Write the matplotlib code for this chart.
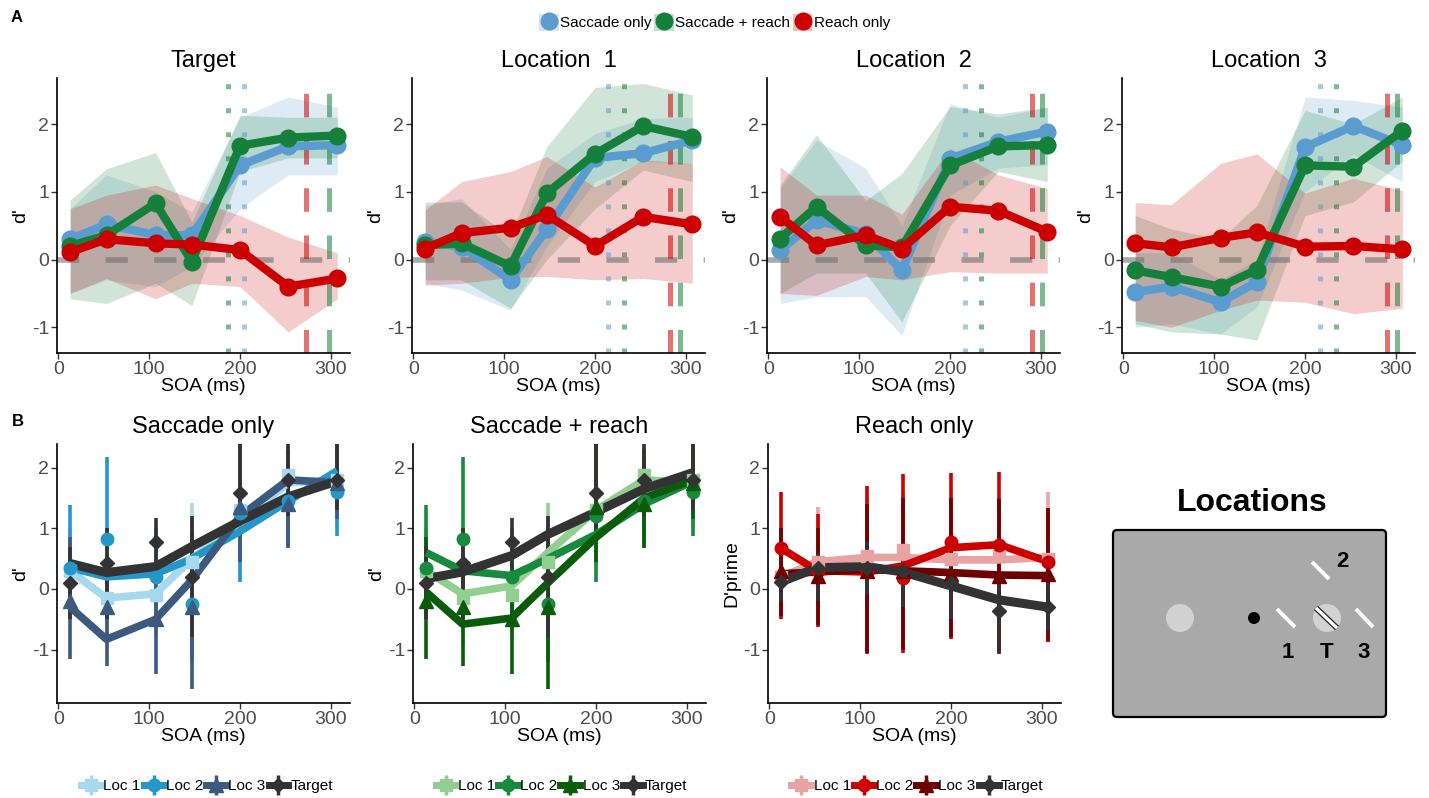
import matplotlib.pyplot as plt
from matplotlib.lines import Line2D
from matplotlib.patches import Patch, FancyBboxPatch, Circle

plt.rcParams['font.family'] = ['Liberation Sans', 'DejaVu Sans']
plt.rcParams['lines.scale_dashes'] = False

SOA = [13, 53, 107, 147, 200, 253, 307]

# ---- panel A: d' per location, mean + ribbon, one entry per panel
A_TITLES = ["Target", "Location  1", "Location  2", "Location  3"]
COND_LABELS = ["Saccade only", "Saccade + reach", "Reach only"]

sacc_mean = [[0.30, 0.52, 0.36, 0.36, 1.39, 1.67, 1.69],
             [0.26, 0.19, -0.30, 0.45, 1.50, 1.57, 1.76],
             [0.14, 0.58, 0.38, -0.16, 1.49, 1.74, 1.89],
             [-0.48, -0.40, -0.63, -0.33, 1.66, 1.97, 1.69]]
sacc_lo = [[-0.50, -0.30, -0.40, -0.10, 0.75, 1.25, 1.25],
           [-0.35, -0.45, -0.75, 0.20, 1.15, 1.45, 1.42],
           [-0.65, -0.55, -0.55, -1.12, 0.95, 1.35, 1.40],
           [-1.00, -0.95, -1.10, -0.70, 1.00, 1.55, 1.15]]
sacc_hi = [[0.75, 1.25, 1.00, 0.70, 2.10, 2.40, 2.25],
           [0.80, 0.90, 0.15, 1.35, 1.86, 2.08, 2.10],
           [1.05, 1.76, 1.35, 0.50, 2.30, 2.10, 2.25],
           [0.10, 0.10, -0.30, 0.00, 2.40, 2.35, 2.25]]

both_mean = [[0.20, 0.36, 0.83, -0.03, 1.68, 1.80, 1.83],
             [0.21, 0.24, -0.10, 0.98, 1.56, 1.97, 1.81],
             [0.31, 0.78, 0.21, 0.18, 1.39, 1.67, 1.69],
             [-0.16, -0.26, -0.40, -0.15, 1.39, 1.37, 1.90]]
both_lo = [[-0.58, -0.65, -0.35, -0.68, 1.30, 1.50, 1.50],
           [-0.30, -0.30, -0.72, 0.00, 0.75, 1.32, 1.15],
           [-0.50, -0.20, -0.20, -0.92, 0.50, 1.30, 1.15],
           [-0.95, -1.07, -1.10, -1.19, 0.65, 0.85, 1.45]]
both_hi = [[0.88, 1.34, 1.58, 0.55, 2.13, 2.10, 2.10],
           [0.85, 0.85, 0.35, 1.67, 2.54, 2.60, 2.43],
           [1.10, 1.84, 0.87, 1.27, 2.26, 2.15, 2.25],
           [0.65, 0.45, 0.30, 0.80, 2.20, 2.00, 2.40]]

reach_mean = [[0.11, 0.30, 0.24, 0.22, 0.14, -0.40, -0.28],
              [0.16, 0.39, 0.47, 0.66, 0.20, 0.63, 0.52],
              [0.63, 0.21, 0.36, 0.16, 0.78, 0.72, 0.41],
              [0.24, 0.18, 0.32, 0.40, 0.19, 0.20, 0.15]]
reach_lo = [[-0.50, -0.28, -0.58, -0.35, -0.40, -1.07, -0.58],
            [-0.38, -0.35, -0.26, -0.25, -0.30, -0.28, -0.35],
            [-0.50, -0.53, -0.25, -0.30, -0.18, -0.20, -0.20],
            [-0.90, -1.00, -0.75, -0.60, -0.63, -0.80, -0.72]]
reach_hi = [[0.75, 0.95, 1.10, 0.90, 0.65, 0.33, 0.10],
            [0.73, 1.15, 1.30, 1.52, 1.07, 1.47, 1.42],
            [1.37, 0.95, 0.95, 0.67, 1.64, 1.25, 1.05],
            [0.84, 0.81, 1.42, 1.56, 0.98, 1.20, 1.02]]

# latency markers (ms)
sacc_dot = [204, 214, 216, 216]
both_dot = [187, 232, 234, 234]
reach_dash = [273, 282, 290, 290]
both_dash = [298, 293, 301, 301]

# ---- panel B: per condition, series Loc 1, Loc 2, Loc 3, Target
B_TITLES = ["Saccade only", "Saccade + reach", "Reach only"]
B_YLABELS = ["d'", "d'", "D'prime"]
SERIES = ["Loc 1", "Loc 2", "Loc 3", "Target"]

sacc_pts = [[0.30, -0.15, -0.10, 0.45, 1.30, 1.88, 1.80],
            [0.35, 0.82, 0.20, -0.25, 1.25, 1.45, 1.60],
            [-0.20, -0.30, -0.50, -0.30, 1.35, 1.40, 1.75],
            [0.10, 0.42, 0.78, 0.20, 1.58, 1.80, 1.80]]
sacc_err_lo = [[-0.30, -0.90, -0.80, -0.60, 0.40, 0.90, 1.00],
               [-0.50, -0.40, -0.60, -1.20, 0.12, 0.70, 0.88],
               [-1.15, -1.27, -1.40, -1.65, 0.45, 0.68, 1.15],
               [-0.50, -0.50, 0.35, -0.80, 1.00, 1.20, 1.30]]
sacc_err_hi = [[1.00, 0.50, 0.60, 1.42, 2.40, 2.60, 2.50],
               [1.38, 2.17, 1.00, 1.15, 2.40, 2.30, 2.50],
               [0.85, 0.60, 0.35, 0.95, 2.50, 2.30, 2.50],
               [0.70, 1.00, 1.17, 1.20, 2.40, 2.40, 2.40]]
sacc_fit = [[0.30, -0.15, -0.08, 0.50, 1.10, 1.75, 1.80],
            [0.35, 0.20, 0.25, 0.50, 0.95, 1.45, 1.95],
            [-0.30, -0.83, -0.50, 0.15, 1.20, 1.80, 1.75],
            [0.42, 0.27, 0.37, 0.70, 1.12, 1.52, 1.78]]

both_pts = [[0.30, -0.15, -0.10, 0.45, 1.30, 1.88, 1.80],
            [0.35, 0.82, 0.20, -0.25, 1.20, 1.45, 1.60],
            [-0.20, -0.30, -0.50, -0.30, 1.35, 1.40, 1.75],
            [0.10, 0.42, 0.78, 0.20, 1.58, 1.80, 1.80]]
both_err_lo = sacc_err_lo
both_err_hi = sacc_err_hi
both_fit = [[0.30, -0.08, 0.05, 0.60, 1.30, 1.80, 1.75],
            [0.60, 0.30, 0.22, 0.50, 0.90, 1.40, 1.78],
            [-0.05, -0.58, -0.48, 0.10, 0.85, 1.50, 1.80],
            [0.17, 0.28, 0.55, 0.90, 1.27, 1.65, 1.92]]

reach_pts = [[0.20, 0.45, 0.55, 0.65, 0.50, 0.55, 0.50],
             [0.67, 0.30, 0.30, 0.18, 0.78, 0.72, 0.45],
             [0.30, 0.22, 0.30, 0.30, 0.25, 0.22, 0.25],
             [0.12, 0.35, 0.35, 0.30, 0.10, -0.37, -0.30]]
reach_err_lo = [[-0.20, -0.40, -0.30, -0.30, -0.50, -0.50, -0.40],
                [-0.50, -0.63, -1.07, -1.05, -0.82, -1.08, -0.88],
                [-0.45, -0.60, -1.05, -1.00, -0.80, -1.05, -0.85],
                [-0.20, -0.20, -0.10, -0.30, -0.50, -1.05, -0.70]]
reach_err_hi = [[1.00, 1.35, 1.50, 1.60, 1.50, 1.50, 1.60],
                [1.60, 1.23, 1.70, 1.90, 1.92, 1.93, 1.33],
                [1.00, 1.00, 1.40, 1.50, 1.50, 1.48, 1.33],
                [0.40, 0.60, 0.78, 0.40, 0.60, 0.30, 0.10]]
reach_fit = [[0.20, 0.45, 0.52, 0.52, 0.48, 0.48, 0.52],
             [0.67, 0.30, 0.28, 0.38, 0.68, 0.73, 0.45],
             [0.25, 0.28, 0.32, 0.30, 0.27, 0.23, 0.22],
             [0.12, 0.35, 0.37, 0.28, 0.05, -0.18, -0.30]]

BLUE, GREEN, RED = '#5a9bd0', '#15803a', '#cc0000'
B_COLORS = [['#a6d8ee', '#2596c8', '#3c5a7d', '#333333'],
            ['#90cf90', '#178a3e', '#0a5c0a', '#333333'],
            ['#e8a3a3', '#cc0000', '#6e0000', '#333333']]
B_MARKERS = ['s', 'o', '^', 'D']
B_MSIZE = [9, 9, 10, 7]

DOT = (3.6, 13.7)
DASH = (17, 17)

W, H = 1429, 798
fig = plt.figure(figsize=(W / 100, H / 100), dpi=100)


def px_axes(left, top, width, height):
    return fig.add_axes([left / W, 1 - (top + height) / H, width / W, height / H])


def style(ax, ylim, ylabel):
    ax.set_xlim(-1.5, 321)
    ax.set_ylim(*ylim)
    ax.set_xticks([0, 100, 200, 300])
    ax.set_yticks([-1, 0, 1, 2])
    ax.set_yticklabels(['-1', '0', '1', '2'])
    for s in ['top', 'right']:
        ax.spines[s].set_visible(False)
    for s in ['left', 'bottom']:
        ax.spines[s].set_linewidth(1.2)
    ax.tick_params(length=4, width=1, color='#333333', labelcolor='#4d4d4d',
                   labelsize=14, pad=1.5)
    ax.set_xlabel('SOA (ms)', fontsize=14, labelpad=0)
    ax.set_ylabel(ylabel, fontsize=14, labelpad=2)


# ---- row A
conds = [(sacc_mean, sacc_lo, sacc_hi, BLUE),
         (both_mean, both_lo, both_hi, GREEN),
         (reach_mean, reach_lo, reach_hi, RED)]
for i, left in enumerate([57, 412, 767, 1122]):
    ax = px_axes(left, 78, 293, 275)
    for mean, lo, hi, c in conds:
        ax.fill_between(SOA, lo[i], hi[i], color=c, alpha=0.2, lw=0, zorder=1)
    ax.axhline(0, color='#707070', alpha=0.6, lw=4, dashes=(16, 19), zorder=2)
    for x, c, d in [(sacc_dot[i], BLUE, DOT), (both_dot[i], GREEN, DOT),
                    (reach_dash[i], RED, DASH), (both_dash[i], GREEN, DASH)]:
        ax.axvline(x, color=c, alpha=0.55, lw=3.6, dashes=d, zorder=2)
    for mean, lo, hi, c in conds:
        ax.plot(SOA, mean[i], color=c, lw=6, marker='o', ms=12, zorder=3)
    ax.set_title(A_TITLES[i], fontsize=17, pad=8)
    style(ax, (-1.38, 2.68), "d'")

top_handles = [(Patch(facecolor=c, alpha=0.25, edgecolor='none'),
                Line2D([], [], color=c, marker='o', ms=12, ls=''))
               for c in [BLUE, GREEN, RED]]
fig.legend(top_handles, COND_LABELS, loc='center', bbox_to_anchor=(0.5, 0.972),
           ncol=3, frameon=False, fontsize=11, handlelength=1.3, handleheight=1.3,
           handletextpad=0.1, columnspacing=0.15)

# ---- row B
b_data = [(sacc_pts, sacc_err_lo, sacc_err_hi, sacc_fit),
          (both_pts, both_err_lo, both_err_hi, both_fit),
          (reach_pts, reach_err_lo, reach_err_hi, reach_fit)]
legend_x = [0.145, 0.393, 0.642]
for j, left in enumerate([57, 413, 768]):
    ax = px_axes(left, 444, 293, 259)
    pts, elo, ehi, fit = b_data[j]
    for k in range(4):
        c = B_COLORS[j][k]
        ax.vlines(SOA, elo[k], ehi[k], color=c, lw=2.6, zorder=1)
    for k in range(4):
        ax.plot(SOA, fit[k], color=B_COLORS[j][k], lw=5.5 if k < 3 else 6.5,
                zorder=2 + k * 0.1, solid_capstyle='butt')
    for k in range(4):
        ax.plot(SOA, pts[k], ls='', marker=B_MARKERS[k], ms=B_MSIZE[k],
                color=B_COLORS[j][k], zorder=3)
    ax.set_title(B_TITLES[j], fontsize=17, pad=8)
    style(ax, (-1.88, 2.39), B_YLABELS[j])

    handles = [(Line2D([], [], color=B_COLORS[j][k], lw=5),
                Line2D([], [], color=B_COLORS[j][k], marker=B_MARKERS[k],
                       ms=B_MSIZE[k], ls=''),
                Line2D([], [], color=B_COLORS[j][k], marker='|', ms=15,
                       mew=2.5, ls=''))
               for k in range(4)]
    fig.legend(handles, SERIES, loc='center', bbox_to_anchor=(legend_x[j], 0.015),
               ncol=4, frameon=False, fontsize=11, handlelength=1.3,
               handletextpad=0.15, columnspacing=0.2)

fig.text(17 / W, 1 - 18 / H, 'A', fontsize=12, weight='bold', ha='center', va='center')
fig.text(18 / W, 1 - 421 / H, 'B', fontsize=12, weight='bold', ha='center', va='center')

# ---- stimulus layout sketch (pixel coordinates)
dax = px_axes(1100, 470, 300, 260)
dax.set_xlim(1100, 1400)
dax.set_ylim(730, 470)
dax.axis('off')
dax.text(1252, 503, 'Locations', fontsize=23, weight='bold', ha='center', va='center')
dax.add_patch(FancyBboxPatch((1117, 534), 265, 179, boxstyle='round,pad=4',
                             facecolor='#a9a9a9', edgecolor='black', lw=1.6))
dax.add_patch(Circle((1180, 618), 14, color='#d2d2d2', lw=0))
dax.add_patch(Circle((1254, 618), 6, color='black', lw=0))
dax.add_patch(Circle((1327, 618), 14, color='#d2d2d2', lw=0))
stim_lines = [((1277, 1295), (609, 627)), ((1356, 1373), (609, 627)),
              ((1312, 1329), (562, 579))]
for xs, ys in stim_lines:
    dax.plot(xs, ys, color='white', lw=2.8, solid_capstyle='butt')
dax.plot((1316, 1337), (608, 628), color='#222222', lw=4.2, solid_capstyle='butt')
dax.plot((1316, 1337), (608, 628), color='white', lw=2.4, solid_capstyle='butt')
for lbl, x, y in [('2', 1342, 562), ('1', 1288, 653), ('T', 1327, 653), ('3', 1364, 653)]:
    dax.text(x, y, lbl, fontsize=16, weight='bold', ha='center', va='center')

fig.savefig('out.png', dpi=100)
